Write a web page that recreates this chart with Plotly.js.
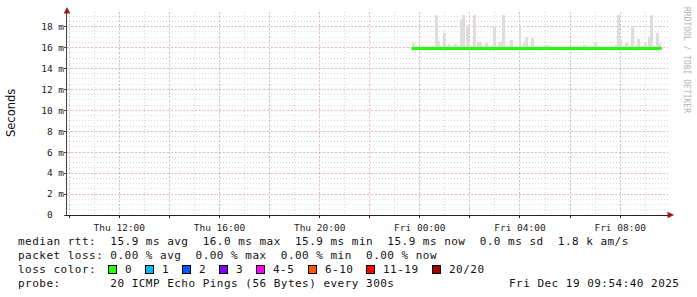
<!DOCTYPE html>
<html>
<head>
<meta charset="utf-8">
<script src="https://cdn.plot.ly/plotly-3.0.1.min.js"></script>
<style>
html,body{margin:0;padding:0;background:#fff;}
#chart{width:697px;height:297px;}
</style>
</head>
<body>
<div id="chart"></div>
<script>
// ---- data ----
const xRange = ['2025-12-18 09:54:40', '2025-12-19 09:54:40'];
const xTickVals = ['2025-12-18 10:00','2025-12-18 12:00','2025-12-18 14:00','2025-12-18 16:00','2025-12-18 18:00','2025-12-18 20:00','2025-12-18 22:00','2025-12-19 00:00','2025-12-19 02:00','2025-12-19 04:00','2025-12-19 06:00','2025-12-19 08:00'];
const xTickText = ['','Thu 12:00','','Thu 16:00','','Thu 20:00','','Fri 00:00','','Fri 04:00','','Fri 08:00'];
const yTickVals = [0,2,4,6,8,10,12,14,16,18];
const yTickText = ['0\u00a0\u00a0','2 m','4 m','6 m','8 m','10 m','12 m','14 m','16 m','18 m'];

// median rtt (ms)
const medianTimes = ['2025-12-18 23:40','2025-12-19 09:40'];
const medianValues = [15.9, 15.9];

// smoke band close to the median (ms)
const bandTimes = ['2025-12-18 23:40','2025-12-19 09:40'];
const bandLow = [15.9, 15.9];
const bandHigh = [16.1, 16.1];

// smoke spikes: max ping in a 300 s step (ms)
const spikeTimes = ['2025-12-18 23:45','2025-12-19 00:40','2025-12-19 00:45','2025-12-19 01:00','2025-12-19 01:10','2025-12-19 01:25','2025-12-19 01:40','2025-12-19 01:45','2025-12-19 01:55','2025-12-19 02:10','2025-12-19 02:20','2025-12-19 02:25','2025-12-19 02:40','2025-12-19 03:00','2025-12-19 03:10','2025-12-19 03:15','2025-12-19 03:20','2025-12-19 03:40','2025-12-19 04:00','2025-12-19 04:10','2025-12-19 04:15','2025-12-19 04:30','2025-12-19 05:00','2025-12-19 05:05','2025-12-19 06:35','2025-12-19 07:00','2025-12-19 07:50','2025-12-19 07:55','2025-12-19 08:00','2025-12-19 08:15','2025-12-19 08:30','2025-12-19 08:45','2025-12-19 09:00','2025-12-19 09:10','2025-12-19 09:15','2025-12-19 09:30','2025-12-19 09:35'];
const spikeMax = [16.46,19.1,16.6,17.4,16.3,16.3,18.7,19.1,18.2,19.1,16.5,16.5,16.4,18.0,16.5,16.5,19.1,16.7,18.2,16.4,17.0,16.9,16.2,16.2,16.2,16.5,16.2,19.1,16.8,16.4,18.1,16.8,16.4,17.0,19.1,17.4,16.4];
const spikeBase = 15.9;

// legend texts
const line1 = 'median rtt:  15.9 ms avg  16.0 ms max  15.9 ms min  15.9 ms now  0.0 ms sd  1.8 k am/s';
const line2 = 'packet loss: 0.00 % avg  0.00 % max  0.00 % min  0.00 % now';
const line3 = 'loss color:';
const line4 = 'probe:       20 ICMP Echo Pings (56 Bytes) every 300s';
const stampText = 'Fri Dec 19 09:54:40 2025';
const lossLabels = ['0','1','2','3','4-5','6-10','11-19','20/20'];
const lossColors = ['#26ff00','#00b8ff','#0059ff','#7e00ff','#ff00ff','#ff5500','#ff0000','#a10000'];
const watermark = 'RRDTOOL / TOBI OETIKER';
const yTitle = 'Seconds';

// ---- layout geometry ----
const W = 697, H = 297;
const L = 67, R = 668, T = 12, B = 215;
const PW = R - L, PH = B - T;
const px = v => (v - L) / PW;
const py = v => (B - v) / PH;
const nb = s => s.replace(/ /g, '\u00a0');
const sp = s => '<span style="letter-spacing:0.48px">' + nb(s) + '</span>';
const MONO = 'DejaVu Sans Mono, monospace';
const CW = 7.1; // char width of the legend font

const traces = [
  {
    type: 'bar', x: spikeTimes, y: spikeMax.map(v => v - spikeBase), base: spikeBase,
    width: 420000, marker: {color: '#dddddd', line: {width: 0}}, hoverinfo: 'skip', showlegend: false
  },
  {
    type: 'scatter', mode: 'lines', x: bandTimes, y: bandLow, line: {width: 0, color: '#d2d2d2'},
    hoverinfo: 'skip', showlegend: false
  },
  {
    type: 'scatter', mode: 'lines', x: bandTimes, y: bandHigh, fill: 'tonexty', fillcolor: '#d2d2d2',
    line: {width: 0, color: '#d2d2d2'}, hoverinfo: 'skip', showlegend: false
  },
  {
    type: 'scatter', mode: 'lines', x: medianTimes, y: medianValues,
    line: {color: '#26ff00', width: 3}, hoverinfo: 'skip', showlegend: false
  }
];

const ann = [];
const textY = [241, 255, 269, 283];
const lf = {family: MONO, size: 11, color: '#111'};
[line1, line2, line3, line4].forEach((t, i) => {
  ann.push({xref: 'paper', yref: 'paper', x: px(16), y: py(textY[i]), xanchor: 'left', yanchor: 'middle',
            text: sp(t), showarrow: false, font: lf});
});
ann.push({xref: 'paper', yref: 'paper', x: px(681), y: py(textY[3]), xanchor: 'right', yanchor: 'middle',
          text: sp(stampText), showarrow: false, font: lf});
// loss colour boxes
let bx = 108;
lossLabels.forEach((lab, i) => {
  ann.push({xref: 'paper', yref: 'paper', x: px(bx), y: py(textY[2]), xanchor: 'left', yanchor: 'middle',
            text: '\u00a0', showarrow: false, width: 7, height: 7, bgcolor: lossColors[i],
            bordercolor: '#000', borderwidth: 1, borderpad: 0, font: {family: MONO, size: 6}});
  ann.push({xref: 'paper', yref: 'paper', x: px(bx + 15), y: py(textY[2]), xanchor: 'left', yanchor: 'middle',
            text: sp(lab), showarrow: false, font: lf});
  bx += 15 + lab.length * CW + 15;
});
// watermark
ann.push({xref: 'paper', yref: 'paper', x: px(687), y: py(60), xanchor: 'center', yanchor: 'middle',
          text: nb(watermark), textangle: 90, showarrow: false, font: {family: MONO, size: 8, color: '#b4b4b4'}});
// y title
ann.push({xref: 'paper', yref: 'paper', x: px(11), y: py(113), xanchor: 'center', yanchor: 'middle',
          text: yTitle, textangle: -90, showarrow: false,
          font: {family: 'DejaVu Sans, sans-serif', size: 11.5, color: '#111'}});
// axis arrows
ann.push({xref: 'paper', yref: 'paper', x: 0, y: py(7), ax: 0, ay: 6, text: '', showarrow: true,
          arrowhead: 2, arrowsize: 1.3, arrowwidth: 1, arrowcolor: '#9b1c1c'});
ann.push({xref: 'paper', yref: 'paper', x: px(674), y: 0, ax: -6, ay: 0, text: '', showarrow: true,
          arrowhead: 2, arrowsize: 1.3, arrowwidth: 1, arrowcolor: '#9b1c1c'});

const layout = {
  width: W, height: H,
  margin: {l: L, r: W - R, t: T, b: H - B, pad: 0},
  paper_bgcolor: '#ffffff', plot_bgcolor: '#ffffff',
  showlegend: false, bargap: 0,
  font: {family: MONO, size: 9.5, color: '#222'},
  xaxis: {
    type: 'date', range: xRange, autorange: false, fixedrange: true,
    tickmode: 'array', tickvals: xTickVals, ticktext: xTickText,
    showgrid: true, gridcolor: 'rgba(235,120,120,0.45)', griddash: '2px,2px', gridwidth: 1,
    minor: {tickmode: 'linear', tick0: '2025-12-18 00:00', dtick: 3600000, showgrid: true,
            gridcolor: '#dadada', griddash: '1px,2px', gridwidth: 1, ticks: ''},
    showline: true, linecolor: '#222', linewidth: 1, zeroline: false,
    ticks: 'outside', ticklen: 2, tickcolor: '#222', ticklabelstandoff: 2,
    tickfont: {family: MONO, size: 9.5, color: '#222'}, automargin: false
  },
  yaxis: {
    range: [0, 19.4], autorange: false, fixedrange: true,
    tickmode: 'array', tickvals: yTickVals, ticktext: yTickText,
    showgrid: true, gridcolor: 'rgba(235,120,120,0.45)', griddash: '2px,2px', gridwidth: 1,
    minor: {tickmode: 'linear', tick0: 0, dtick: 0.5, showgrid: true,
            gridcolor: '#dadada', griddash: '1px,2px', gridwidth: 1, ticks: ''},
    showline: true, linecolor: '#444', linewidth: 1, zeroline: false,
    ticks: 'outside', ticklen: 2, tickcolor: '#444', ticklabelstandoff: -2,
    tickfont: {family: MONO, size: 9.5, color: '#222'}, automargin: false
  },
  annotations: ann
};

Plotly.newPlot('chart', traces, layout, {staticPlot: true, displayModeBar: false});
</script>
</body>
</html>
